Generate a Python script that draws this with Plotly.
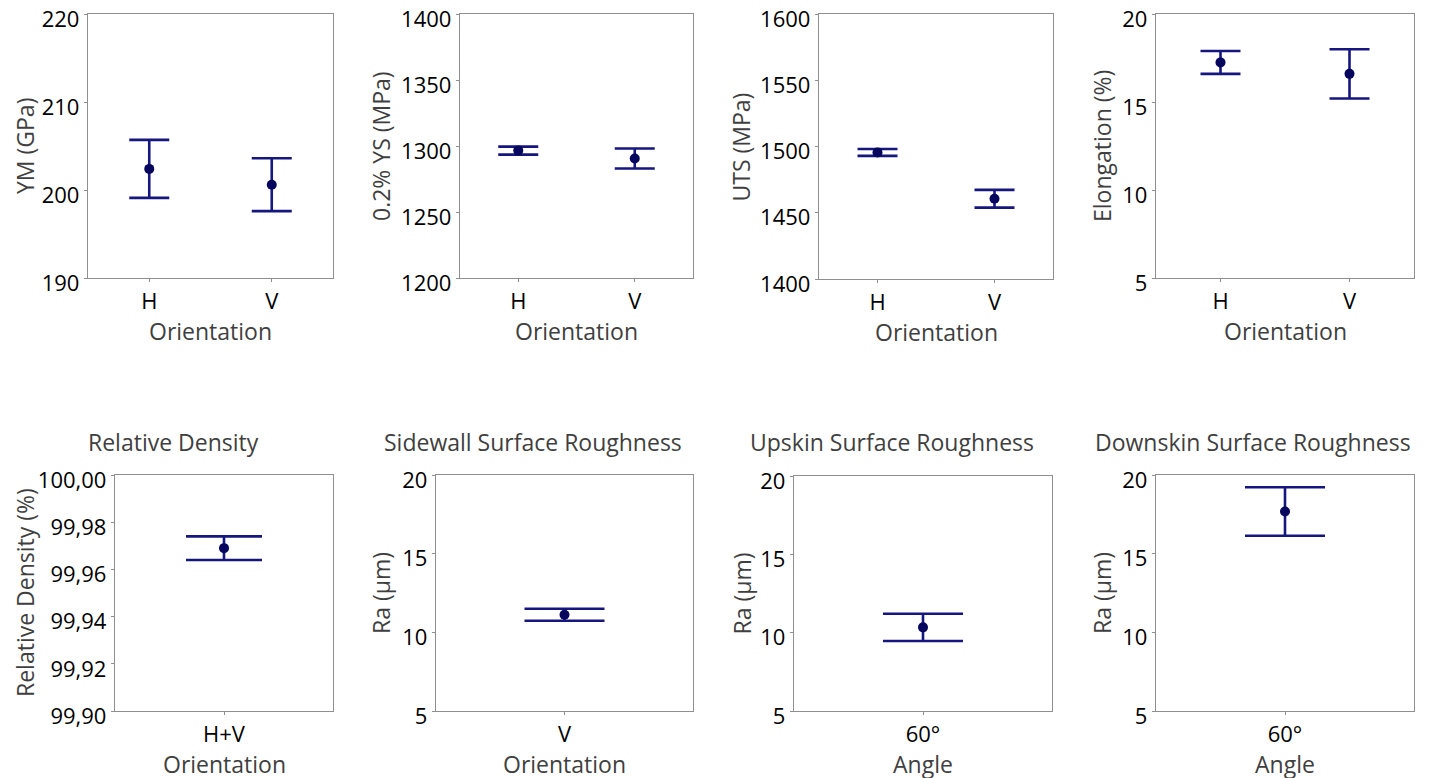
import plotly.graph_objects as go

W, H = 1429, 778
OFF = 8  # browser body margin offset

# ---------------- data ----------------
ym_cats = ["H", "V"]
ym_mean = [202.4, 200.6]
ym_err = [3.3, 3.0]

ys_cats = ["H", "V"]
ys_mean = [1296.5, 1290.5]
ys_err = [3.0, 7.6]

uts_cats = ["H", "V"]
uts_mean = [1495.5, 1460.6]
uts_err = [2.6, 6.7]

el_cats = ["H", "V"]
el_mean = [17.25, 16.6]
el_err = [0.65, 1.4]

rd_cats = ["H+V"]
rd_mean = [99.969]
rd_err = [0.005]

sw_cats = ["V"]
sw_mean = [11.12]
sw_err = [0.38]

up_cats = ["60°"]
up_mean = [10.34]
up_err = [0.87]

dn_cats = ["60°"]
dn_mean = [17.68]
dn_err = [1.54]

panels = [
    # cats, mean, err, y-title, x-title, top-title, y-range, dtick, tickformat
    (ym_cats, ym_mean, ym_err, "YM (GPa)", "Orientation", None, [190, 220], 10, "d"),
    (ys_cats, ys_mean, ys_err, "0.2% YS (MPa)", "Orientation", None, [1200, 1400], 50, "d"),
    (uts_cats, uts_mean, uts_err, "UTS (MPa)", "Orientation", None, [1400, 1600], 50, "d"),
    (el_cats, el_mean, el_err, "Elongation (%)", "Orientation", None, [5, 20], 5, "d"),
    (rd_cats, rd_mean, rd_err, "Relative Density (%)", "Orientation", "Relative Density", [99.90, 100.00], 0.02, ".2f"),
    (sw_cats, sw_mean, sw_err, "Ra (µm)", "Orientation", "Sidewall Surface Roughness", [5, 20], 5, "d"),
    (up_cats, up_mean, up_err, "Ra (µm)", "Angle", "Upskin Surface Roughness", [5, 20], 5, "d"),
    (dn_cats, dn_mean, dn_err, "Ra (µm)", "Angle", "Downskin Surface Roughness", [5, 20], 5, "d"),
]

# pixel boxes of plot areas on the page: (left, right, top, bottom)
boxes = [
    (88, 333, 14, 278), (460, 693, 14, 278), (819, 1053, 14, 279), (1156, 1414, 14, 278),
    (115, 333, 475, 711), (436, 693, 475, 711), (794, 1052, 476, 711), (1156, 1414, 475, 711),
]
ytitle_x = [25, 381, 741, 1102, 25, 381, 741, 1102]
xtitle_y = [331, 331, 332, 331, 764, 764, 764, 764]
top_title_x = [None, None, None, None, 173, 533, 892, 1253]
cap_w = [20, 20, 20, 20, 38, 40, 40, 40]

FONT = "Open Sans"
LINE = "#8f8f8f"
BAR = "#16167f"
DOT = "#06065e"
TITLE_COL = "#3f3f3f"
TICK_SIZE = 22
TITLE_SIZE = 23


def px(x):
    return (x - OFF) / W


def py(y):
    return 1 - (y - OFF) / H


fig = go.Figure()
annotations = []
layout_axes = {}

for i, (cats, mean, err, ytl, xtl, ttl, yr, dt, tf) in enumerate(panels):
    n = i + 1
    xa = "x" if n == 1 else f"x{n}"
    ya = "y" if n == 1 else f"y{n}"
    fig.add_trace(go.Scatter(
        x=cats, y=mean, xaxis=xa, yaxis=ya, mode="markers",
        marker=dict(size=10, color=DOT, symbol="circle"),
        error_y=dict(type="data", array=err, visible=True, color=BAR,
                     thickness=2.6, width=cap_w[i]),
        showlegend=False, hoverinfo="x+y",
    ))
    l, r, t, b = boxes[i]
    xkey = "xaxis" if n == 1 else f"xaxis{n}"
    ykey = "yaxis" if n == 1 else f"yaxis{n}"
    ncat = len(cats)
    layout_axes[xkey] = dict(
        domain=[px(l), px(r)], anchor=ya, type="category",
        range=[-0.5, ncat - 0.5], automargin=False,
        showline=True, mirror=True, linecolor=LINE, linewidth=1.4,
        showgrid=False, zeroline=False,
        ticks="outside", ticklen=3, tickcolor=LINE, tickwidth=1,
        tickfont=dict(family=FONT, size=TICK_SIZE, color="#000000"),
        ticklabeloverflow="allow",
        fixedrange=True,
    )
    layout_axes[ykey] = dict(
        domain=[py(b), py(t)], anchor=xa, automargin=False,
        range=yr, dtick=dt, tick0=yr[0], tickformat=tf,
        showline=True, mirror=True, linecolor=LINE, linewidth=1.4,
        showgrid=False, zeroline=False,
        ticks="outside", ticklen=3, tickcolor=LINE, tickwidth=1,
        tickfont=dict(family=FONT, size=TICK_SIZE, color="#000000"),
        ticklabeloverflow="allow", ticklabelshift=5,
        fixedrange=True,
    )
    annotations.append(dict(
        text=ytl, xref="paper", yref="paper",
        x=px(ytitle_x[i]), y=py((t + b) / 2),
        xanchor="center", yanchor="middle", textangle=-90, showarrow=False,
        font=dict(family=FONT, size=TITLE_SIZE, color=TITLE_COL),
    ))
    annotations.append(dict(
        text=xtl, xref="paper", yref="paper",
        x=px((l + r) / 2), y=py(xtitle_y[i]),
        xanchor="center", yanchor="middle", showarrow=False,
        font=dict(family=FONT, size=TITLE_SIZE, color=TITLE_COL),
    ))
    if ttl:
        annotations.append(dict(
            text=ttl, xref="paper", yref="paper",
            x=px(top_title_x[i]), y=py(442),
            xanchor="center", yanchor="middle", showarrow=False,
            font=dict(family=FONT, size=TITLE_SIZE, color=TITLE_COL),
        ))

fig.update_layout(
    width=W, height=H,
    margin=dict(l=0, r=0, t=0, b=0, autoexpand=False),
    paper_bgcolor="white", plot_bgcolor="white",
    separators=", ",
    annotations=annotations,
    showlegend=False,
    **layout_axes,
)

fig.write_html("out.html")
